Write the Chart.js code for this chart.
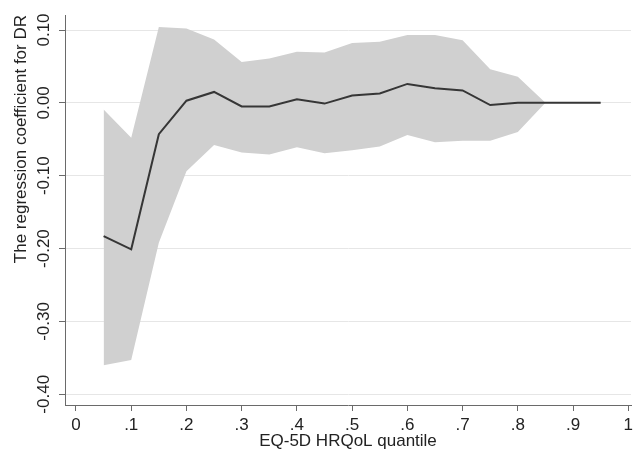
<!DOCTYPE html>
<html>
<head>
<meta charset="utf-8">
<script src="https://cdn.jsdelivr.net/npm/chart.js@4/dist/chart.umd.min.js"></script>
<style>
	body { margin: 0; background: #fff; }
	#wrap { width: 633px; height: 450px; }
</style>
</head>
<body>
<div id="wrap"><canvas id="ChartCanvas" width="633" height="450"></canvas></div>
<script>
// quantiles and regression estimates
const quantiles = [0.05, 0.10, 0.15, 0.20, 0.25, 0.30, 0.35, 0.40, 0.45, 0.50, 0.55, 0.60, 0.65, 0.70, 0.75, 0.80, 0.85, 0.90, 0.95];
const coef = [-0.183, -0.201, -0.043, 0.003, 0.015, -0.005, -0.005, 0.005, -0.001, 0.010, 0.013, 0.026, 0.020, 0.017, -0.003, 0.000, 0.000, 0.000, 0.000];
const ciUpper = [-0.009, -0.048, 0.104, 0.102, 0.087, 0.056, 0.061, 0.070, 0.069, 0.082, 0.084, 0.093, 0.093, 0.086, 0.046, 0.036, 0.000, 0.000, 0.000];
const ciLower = [-0.360, -0.353, -0.192, -0.094, -0.058, -0.068, -0.071, -0.061, -0.069, -0.065, -0.060, -0.044, -0.054, -0.052, -0.052, -0.040, 0.000, 0.000, 0.000];

const xTicks = [0, 0.1, 0.2, 0.3, 0.4, 0.5, 0.6, 0.7, 0.8, 0.9, 1];
const xTickLabels = ['0', '.1', '.2', '.3', '.4', '.5', '.6', '.7', '.8', '.9', '1'];
const yTicks = [-0.4, -0.3, -0.2, -0.1, 0, 0.1];
const yTickLabels = ['-0.40', '-0.30', '-0.20', '-0.10', '0.00', '0.10'];

function toPoints(ys) {
	return quantiles.map(function (q, i) { return { x: q, y: ys[i] }; });
}

const txt = '#222';
const font = { family: "'Liberation Sans', Arial, sans-serif", size: 17 };

var ctx = document.getElementById('ChartCanvas').getContext('2d');
var chart = new Chart(ctx, {
	type: 'line',
	data: {
		datasets: [{
			label: 'coef',
			data: toPoints(coef),
			borderColor: '#363636',
			borderWidth: 2,
			pointRadius: 0,
			fill: false,
			tension: 0
		}, {
			label: 'upper',
			data: toPoints(ciUpper),
			borderWidth: 0,
			borderColor: 'rgba(0,0,0,0)',
			backgroundColor: '#d0d0d0',
			pointRadius: 0,
			fill: '+1',
			tension: 0
		}, {
			label: 'lower',
			data: toPoints(ciLower),
			borderWidth: 0,
			borderColor: 'rgba(0,0,0,0)',
			pointRadius: 0,
			fill: false,
			tension: 0
		}]
	},
	options: {
		responsive: false,
		devicePixelRatio: 1,
		animation: false,
		layout: { padding: { top: 15, right: 2, left: 0, bottom: 0 } },
		plugins: {
			legend: { display: false },
			tooltip: { enabled: false }
		},
		scales: {
			x: {
				type: 'linear',
				min: -0.0199,
				max: 1.0049,
				afterBuildTicks: function (scale) {
					scale.ticks = xTicks.map(function (v) { return { value: v }; });
				},
				afterFit: function (scale) {
					scale.height = 45;
					scale.paddingLeft = 0;
					scale.paddingRight = 0;
				},
				ticks: {
					color: txt,
					font: font,
					padding: 4,
					maxRotation: 0,
					minRotation: 0,
					callback: function (v) {
						let i = xTicks.indexOf(v);
						return i >= 0 ? xTickLabels[i] : '';
					}
				},
				grid: { drawOnChartArea: false, drawTicks: true, tickLength: 6, tickColor: '#6a6a6a' },
				border: { color: '#6a6a6a', width: 1 },
				title: {
					display: true,
					text: 'EQ-5D HRQoL quantile',
					color: txt,
					font: font,
					padding: { top: 0, bottom: -2 }
				}
			},
			y: {
				type: 'linear',
				min: -0.4147,
				max: 0.1206,
				afterBuildTicks: function (scale) {
					scale.ticks = yTicks.map(function (v) { return { value: v }; });
				},
				afterFit: function (scale) {
					scale.width = 65;
					scale.paddingTop = 0;
					scale.paddingBottom = 0;
				},
				ticks: {
					color: txt,
					font: font,
					padding: -5,
					minRotation: 90,
					maxRotation: 90,
					crossAlign: 'center',
					callback: function (v) {
						let i = yTicks.indexOf(v);
						return i >= 0 ? yTickLabels[i] : '';
					}
				},
				grid: { color: '#e6e6e6', lineWidth: 1, drawTicks: true, tickLength: 6, tickColor: '#6a6a6a' },
				border: { color: '#6a6a6a', width: 1 },
				title: {
					display: true,
					text: 'The regression coefficient for DR',
					align: 'end',
					color: txt,
					font: font,
					padding: { top: 11, bottom: 0 }
				}
			}
		}
	}
});
</script>
</body>
</html>
